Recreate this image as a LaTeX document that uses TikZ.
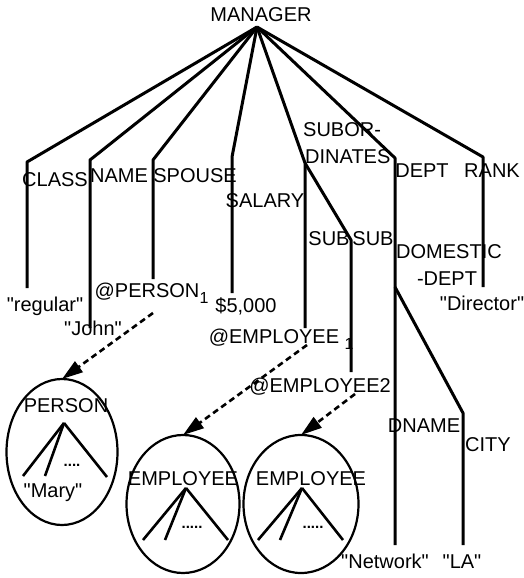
\documentclass[tikz,border=0pt]{standalone}
\usepackage{fontspec}
\newfontfamily\lsans{Liberation Sans}
\usetikzlibrary{shapes.geometric,arrows.meta}
\begin{document}
\begin{tikzpicture}[x=1pt,y=-1pt,
  edge/.style={line width=3pt, line join=round},
  small/.style={line width=2.6pt},
  lbl/.style={inner sep=0pt, anchor=base, font=\lsans\fontsize{20}{24}\selectfont},
  lblw/.style={inner sep=0pt, anchor=base west, font=\lsans\fontsize{20}{24}\selectfont},
  subs/.style={inner sep=0pt, anchor=base, font=\lsans\fontsize{16}{18}\selectfont},
  dotsty/.style={inner sep=0pt, font=\lsans\bfseries\fontsize{15}{16}\selectfont},
  obj/.style={draw, ellipse, line width=2.2pt, inner sep=0pt, outer sep=0pt},
  ref/.style={line width=2.6pt, dash pattern=on 6pt off 4pt, -{Triangle[length=21pt,width=13pt]}}
]
\useasboundingbox (0,0) rectangle (524,578);

% main tree points
\coordinate (m) at (257,27);
\coordinate (cl) at (27,162);  \coordinate (clb) at (27,288);
\coordinate (nm) at (90,160);  \coordinate (nmb) at (90,328);
\coordinate (sp) at (153,160); \coordinate (spb) at (153,279);
\coordinate (sa) at (232,157); \coordinate (sab) at (232,293);
\coordinate (sb) at (305,163); \coordinate (sb1b) at (305,328);
\coordinate (sb2) at (351,240); \coordinate (sb2b) at (351,372);
\coordinate (dp) at (395,158); \coordinate (dm) at (395,287); \coordinate (dnb) at (395,545);
\coordinate (ct) at (463,413); \coordinate (ctb) at (463,545);
\coordinate (rk) at (483,157); \coordinate (rkb) at (483,287);

\draw[edge] (m) -- (cl) -- (clb);
\draw[edge] (m) -- (nm) -- (nmb);
\draw[edge] (m) -- (sp) -- (spb);
\draw[edge] (m) -- (sa) -- (sab);
\draw[edge] (m) -- (sb) -- (sb1b);
\draw[edge] (sb) -- (sb2) -- (sb2b);
\draw[edge] (m) -- (dp) -- (dm) -- (dnb);
\draw[edge] (dm) -- (ct) -- (ctb);
\draw[edge] (m) -- (rk) -- (rkb);

% labels
\node[lbl] (lmgr) at (261,22) {MANAGER};
\node[lbl] (lcls) at (55,186) {CLASS};
\node[lbl] (lnam) at (119,182) {NAME};
\node[lbl] (lspo) at (195,182) {SPOUSE};
\node[lbl] (lsal) at (265,207) {SALARY};
\node[lblw] (lsub1) at (303,136) {SUBOR-};
\node[lblw] (lsub2) at (305,163) {DINATES};
\node[lbl] (ldep) at (422,177) {DEPT};
\node[lbl] (lrnk) at (492,177) {RANK};
\node[lbl] (lsa) at (329,245) {SUB};
\node[lbl] (lsb) at (373,245) {SUB};
\node[lbl] (ldom1) at (449,258) {DOMESTIC};
\node[lbl] (ldom2) at (447,285) {-DEPT};
\node[lbl] (lreg) at (45,311) {"regular"};
\node[lbl] (ljoh) at (93,335) {"John"};
\node[lbl] (lper) at (147,297) {@PERSON};
\node[subs] (lper1) at (204,303) {1};
\node[lbl] (lfive) at (246,312) {\$5,000};
\node[lbl] (lemp) at (274,343) {@EMPLOYEE};
\node[subs] (lemp1) at (349,349) {1};
\node[lbl] (ldir) at (482,310) {"Director"};
\node[lbl] (lemp2) at (320,392) {@EMPLOYEE2};
\node[lbl] (ldn) at (424,432) {DNAME};
\node[lbl] (lcity) at (488,451) {CITY};
\node[lbl] (lnet) at (385,568) {"Network"};
\node[lbl] (lla) at (462,568) {"LA"};

% object ellipses
\node[obj, minimum width=111pt, minimum height=146pt] (pe) at (62,452) {};
\node[obj, minimum width=113pt, minimum height=138pt] (e1) at (183,504) {};
\node[obj, minimum width=115pt, minimum height=138pt] (e2) at (301,504) {};

\node[lbl] (lpers) at (66,412) {PERSON};
\node[lbl] (lmary) at (53,497) {"Mary"};
\node[lbl] (lemA) at (183,485) {EMPLOYEE};
\node[lbl] (lemB) at (311,485) {EMPLOYEE};

% small trees
\coordinate (pa) at (64,423);
\coordinate (pa1) at (23,476); \coordinate (pa2) at (45,476); \coordinate (pa3) at (107,477);
\draw[small] (pa) -- (pa1); \draw[small] (pa) -- (pa2); \draw[small] (pa) -- (pa3);
\coordinate (ea) at (186,488);
\coordinate (ea1) at (143,540); \coordinate (ea2) at (165,540); \coordinate (ea3) at (228,540);
\draw[small] (ea) -- (ea1); \draw[small] (ea) -- (ea2); \draw[small] (ea) -- (ea3);
\coordinate (eb) at (302,488);
\coordinate (eb1) at (258,540); \coordinate (eb2) at (280,540); \coordinate (eb3) at (343,540);
\draw[small] (eb) -- (eb1); \draw[small] (eb) -- (eb2); \draw[small] (eb) -- (eb3);

\node[dotsty] (dp1) at (72,465) {....};
\node[dotsty] (dp2) at (192,527) {.....};
\node[dotsty] (dp3) at (313,527) {.....};

% references
\coordinate (rp) at (153,313);
\coordinate (re1) at (307,345);
\coordinate (re2) at (355,394);
\draw[ref] (rp) -- (pe.north);
\draw[ref] (re1) -- (e1.north);
\draw[ref] (re2) -- (e2.north);
\end{tikzpicture}
\end{document}
